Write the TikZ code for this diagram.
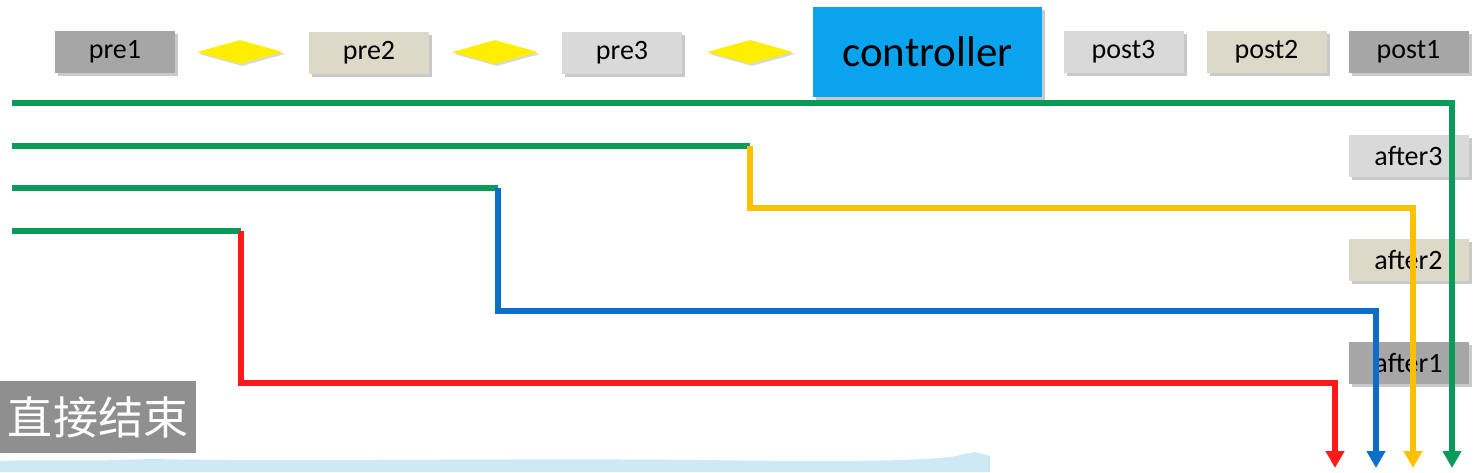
\documentclass[tikz,border=0pt]{standalone}
\usepackage{fontspec}
\setmainfont{Carlito}
\newfontfamily\cjk{Noto Sans CJK SC}
\usetikzlibrary{shapes.geometric,arrows.meta,shadows}
\definecolor{cgray}{HTML}{A6A6A6}
\definecolor{cbeige}{HTML}{DDD9C8}
\definecolor{clight}{HTML}{D9D9D9}
\definecolor{cblue}{HTML}{0AA3EE}
\definecolor{cyel}{HTML}{FFEE00}
\definecolor{lgreen}{HTML}{0A9A5A}
\definecolor{lyellow}{HTML}{FFC000}
\definecolor{lblue}{HTML}{0B6FC9}
\definecolor{lred}{HTML}{FF1A1A}
\definecolor{band}{HTML}{CDE9F5}
\definecolor{endgray}{HTML}{8F8F8F}
\tikzset{
  box/.style={minimum width=120pt, minimum height=42pt, inner sep=0pt,
    font=\fontsize{28}{32}\selectfont,
    drop shadow={shadow xshift=3pt, shadow yshift=-3pt, opacity=0.35, fill=black!60}},
  dia/.style={diamond, fill=cyel, minimum width=86pt, minimum height=24pt, inner sep=0pt,
    drop shadow={shadow xshift=2pt, shadow yshift=-2pt, opacity=0.25, fill=black!60}},
  flow/.style={line width=5.5pt, line join=miter},
  tip/.style={-{Triangle[width=18pt,length=17pt]}},
}
\begin{document}
\begin{tikzpicture}[x=1pt,y=-1pt]
\useasboundingbox (0,0) rectangle (1479,472);
\fill[white] (0,0) rectangle (1479,472);
% bottom band
\fill[band] (0,472) -- (0,461) .. controls (40,459) and (80,462) .. (150,459)
  .. controls (300,462) and (500,458) .. (700,460) .. controls (850,462) and (940,461) .. (960,455)
  -- (975,452) -- (990,456) -- (990,472) -- cycle;
% top row
\node[box, fill=cgray] (pre1) at (115,52) {pre1};
\node[dia] (d1) at (240,52) {};
\node[box, fill=cbeige] (pre2) at (369,53) {pre2};
\node[dia] (d2) at (495,52) {};
\node[box, fill=clight] (pre3) at (622,53) {pre3};
\node[dia] (d3) at (750,52) {};
\node[box, fill=cblue, minimum width=229pt, minimum height=90pt, font=\fontsize{43}{48}\selectfont] (ctrl) at (927.5,52) {controller};
\node[box, fill=clight] (post3) at (1123.5,52) {post3};
\node[box, fill=cbeige] (post2) at (1266.5,52) {post2};
\node[box, fill=cgray] (post1) at (1408.5,52) {post1};
% after boxes
\node[box, fill=clight] (after3) at (1408.5,156) {after3};
\node[box, fill=cbeige] (after2) at (1408.5,260) {after2};
\node[box, fill=cgray] (after1) at (1408.5,363) {after1};
% end label
\node[fill=endgray, text=white, minimum width=196pt, minimum height=72pt, inner sep=0pt,
  font=\cjk\fontsize{45}{50}\selectfont] (end) at (98,417) {直接结束};
% coordinates
\coordinate (s1) at (12,103);
\coordinate (s2) at (12,146);
\coordinate (s3) at (12,188);
\coordinate (s4) at (12,231);
\coordinate (t2) at (750,146);
\coordinate (t3) at (498,188);
\coordinate (t4) at (241,231);
\coordinate (e1) at (1452,468);
\coordinate (e2) at (1413,468);
\coordinate (e3) at (1376,468);
\coordinate (e4) at (1335,468);
% lines
\draw[flow, lgreen, tip] (s1) -| (e1);
\draw[flow, lgreen] (s2) -- (t2);
\draw[flow, lgreen] (s3) -- (t3);
\draw[flow, lgreen] (s4) -- (t4);
\draw[flow, lyellow, tip] (t2) |- (750,208) -| (e2);
\draw[flow, lblue, tip] (t3) |- (498,311) -| (e3);
\draw[flow, lred, tip] (t4) |- (241,383) -| (e4);
\end{tikzpicture}
\end{document}
